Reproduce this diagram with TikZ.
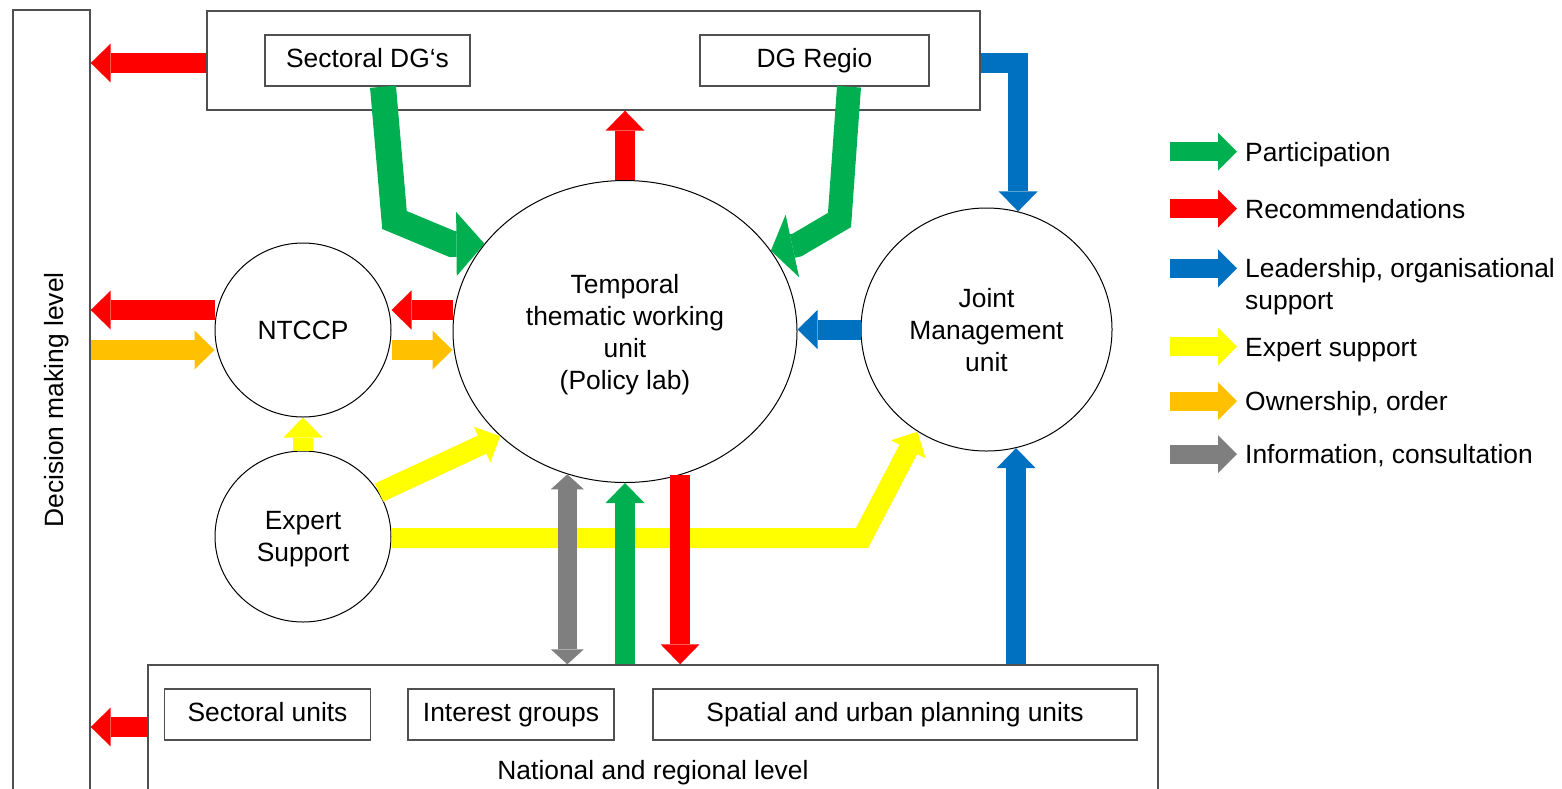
\documentclass[tikz,border=0pt]{standalone}
\usepackage{fontspec}
\setmainfont{Liberation Sans}
\usetikzlibrary{arrows.meta,shapes.geometric}
\definecolor{cG}{HTML}{00B050}
\definecolor{cR}{HTML}{FF0000}
\definecolor{cB}{HTML}{0070C0}
\definecolor{cY}{HTML}{FFFF00}
\definecolor{cO}{HTML}{FFC000}
\definecolor{cK}{HTML}{7F7F7F}
\definecolor{bx}{HTML}{505050}
\begin{document}
\begin{tikzpicture}[x=1pt,y=-1pt,font=\fontsize{26.4}{32}\selectfont,
  boxst/.style={draw=bx,line width=1.4pt,inner sep=0pt,text height=18.8pt,text depth=5.5pt},
  circst/.style={draw=black,line width=1pt,ellipse,inner sep=0pt,align=center,text depth=0pt},
  arr/.style={line width=20pt,line join=miter,-{Triangle[length=20pt,width=39pt,line width=0pt]}},
  lgarr/.style={line width=19pt,-{Triangle[length=19pt,width=38pt,line width=0pt]}},
  lgtxt/.style={inner sep=0pt},
  gbent/.style={line width=26pt,line join=miter,-{Triangle[length=28pt,width=64pt,line width=0pt]}},
  gbentb/.style={line width=24pt,line join=miter,-{Triangle[length=22pt,width=64pt,line width=0pt]}},
  dbl/.style={line width=19pt,{Triangle[length=15pt,width=33pt,line width=0pt]}-{Triangle[length=15pt,width=33pt,line width=0pt]}}
]
\useasboundingbox (0,0) rectangle (1562,788);
\clip (0,0) rectangle (1562,788);

% nodes
\node[boxst,minimum width=77pt,minimum height=790pt] (dm) at (51.5,405) {};
\node[rotate=90,anchor=base] (dmt) at (63,400) {Decision making level};

\node[boxst,minimum width=773pt,minimum height=99pt] (tb) at (593.5,60.5) {};
\node[boxst,minimum width=205pt,minimum height=51pt] (sdg) at (367.5,60.5) {Sectoral DG‘s};
\node[boxst,minimum width=229pt,minimum height=51pt] (dgr) at (814.5,60.5) {DG Regio};

\node[circst,minimum width=344pt,minimum height=302pt] (tw) at (625,331.5) {Temporal\\thematic working\\unit\\(Policy lab)};
\node[circst,minimum width=176pt,minimum height=174pt] (nt) at (303,330) {NTCCP};
\node[circst,minimum width=176pt,minimum height=171pt] (es) at (303,536.5) {Expert\\Support};
\node[circst,minimum width=251pt,minimum height=243pt] (jm) at (986.5,329.5) {Joint\\Management\\unit};

\node[boxst,minimum width=1010pt,minimum height=135pt] (bb) at (653,732.5) {};
\node[boxst,minimum width=206pt,minimum height=51pt] (su) at (267.5,714.5) {Sectoral units};
\node[boxst,minimum width=206pt,minimum height=51pt] (ig) at (511,714.5) {Interest groups};
\node[boxst,minimum width=484pt,minimum height=51pt] (sp) at (895,714.5) {Spatial and urban planning units};
\node[anchor=base] (nrl) at (653,779) {National and regional level};

% yellow (below the vertical arrows)
\draw[arr,draw=cY] (es.north) -- (nt.south);
\draw[arr,draw=cY] (es.30) -- (tw.220.4);
\draw[arr,draw=cY] (es.east |- 0,538) -- (862,538) -- (jm.236.3);

% red
\draw[arr,draw=cR] (tb.west |- 0,63) -- (dm.east |- 0,63);
\draw[arr,draw=cR] (nt.west |- 0,310) -- (dm.east |- 0,310);
\draw[arr,draw=cR] (tw.west |- 0,310) -- (nt.east |- 0,310);
\draw[arr,draw=cR] (tw.north) -- (tw.north |- tb.south);
\draw[arr,draw=cR] (tw.291) -- (tw.291 |- bb.north);
\draw[arr,draw=cR] (bb.west |- 0,727) -- (dm.east |- 0,727);

% orange
\draw[arr,draw=cO] (dm.east |- 0,350) -- (nt.west |- 0,350);
\draw[arr,draw=cO] (nt.east |- 0,350) -- (tw.west |- 0,350);

% blue
\draw[arr,draw=cB] (tb.east |- 0,63) -| (jm.75.5);
\draw[arr,draw=cB] (jm.west) -- (tw.east |- jm.west);
\draw[arr,draw=cB] (bb.north -| jm.284.5) -- (jm.284.5);

% green
\draw[arr,draw=cG] (bb.north -| tw.south) -- (tw.south);
\draw[gbent,draw=cG] ([xshift=15.5pt]sdg.south) -- (394.5,220) -- (452,244) -- (tw.148.8);
\draw[gbentb,draw=cG] ([xshift=34.5pt]dgr.south) -- (839.5,220) -- (797,245) -- (tw.29.6);

% gray
\draw[dbl,draw=cK] (tw.248) -- (tw.248 |- bb.north);

% legend
\node[lgtxt,anchor=base west] (l1) at (1245,161) {Participation};
\node[lgtxt,anchor=base west] (l2) at (1245,218) {Recommendations};
\node[lgtxt,anchor=north west,align=left] (l3) at (1245,258.5) {Leadership, organisational\\support};
\node[lgtxt,anchor=base west] (l4) at (1245,356) {Expert support};
\node[lgtxt,anchor=base west] (l5) at (1245,410.5) {Ownership, order};
\node[lgtxt,anchor=base west] (l6) at (1245,463.5) {Information, consultation};

\draw[lgarr,draw=cG] ([shift={(-75,-9.3)}]l1.base west) -- ([shift={(-8,-9.3)}]l1.base west);
\draw[lgarr,draw=cR] ([shift={(-75,-9.3)}]l2.base west) -- ([shift={(-8,-9.3)}]l2.base west);
\draw[lgarr,draw=cB] ([shift={(-75,9.8)}]l3.north west) -- ([shift={(-8,9.8)}]l3.north west);
\draw[lgarr,draw=cY] ([shift={(-75,-9.3)}]l4.base west) -- ([shift={(-8,-9.3)}]l4.base west);
\draw[lgarr,draw=cO] ([shift={(-75,-9.3)}]l5.base west) -- ([shift={(-8,-9.3)}]l5.base west);
\draw[lgarr,draw=cK] ([shift={(-75,-9.3)}]l6.base west) -- ([shift={(-8,-9.3)}]l6.base west);
\end{tikzpicture}
\end{document}
